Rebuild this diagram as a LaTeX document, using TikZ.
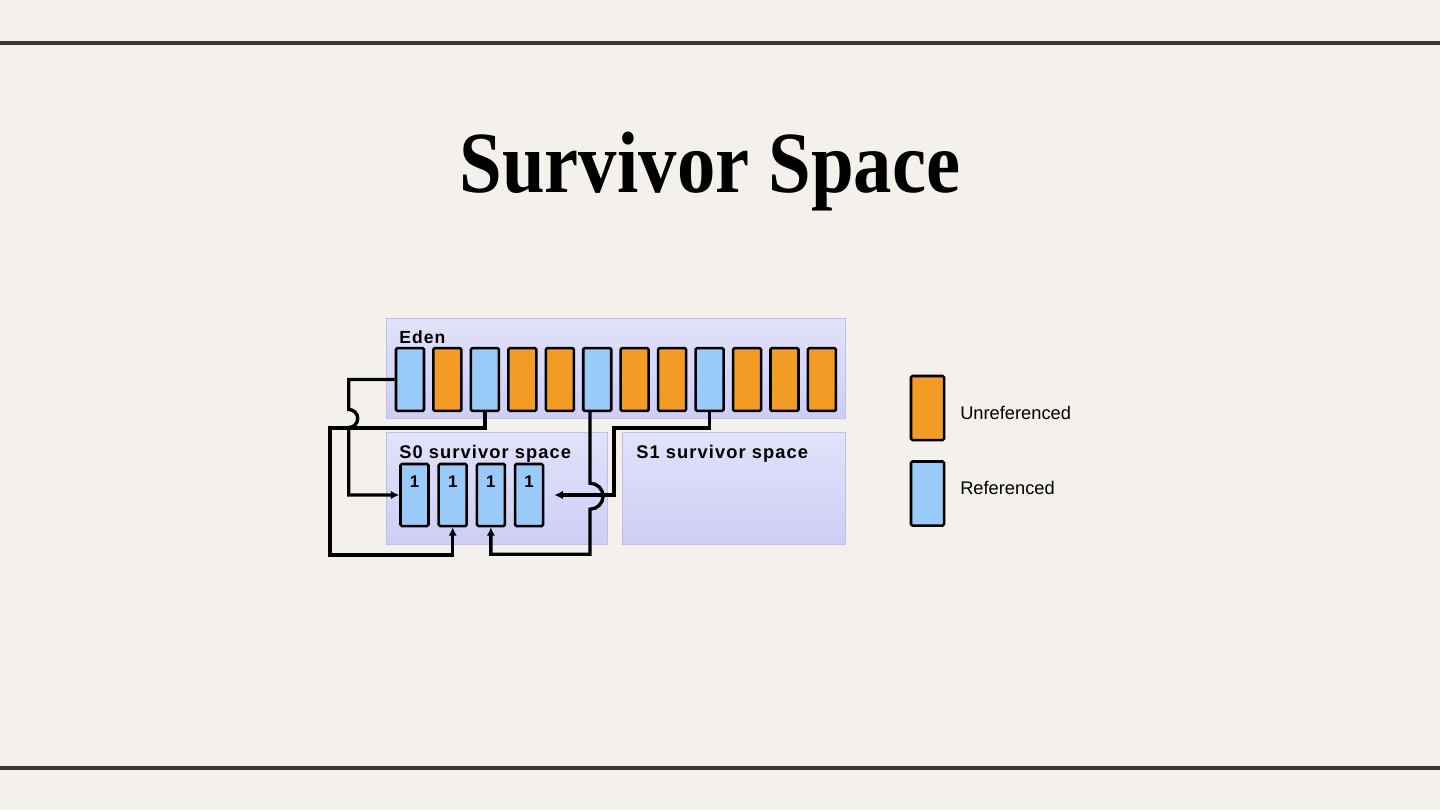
\documentclass[tikz,border=0pt]{standalone}
\usepackage{fontspec}
\setmainfont{Liberation Serif}
\setsansfont{Liberation Sans}
\newfontfamily\boxfont[LetterSpace=6.0]{Liberation Sans}
\usetikzlibrary{arrows.meta, positioning, calc}
\definecolor{paper}{RGB}{244,241,236}
\definecolor{rulecol}{RGB}{62,56,51}
\definecolor{unref}{RGB}{243,156,37}
\definecolor{refd}{RGB}{154,203,248}
\definecolor{spacetop}{RGB}{226,226,250}
\definecolor{spacebot}{RGB}{206,206,246}
\definecolor{spaceedge}{RGB}{190,190,232}

\tikzset{
  cell/.style={draw=black, line width=1.8pt, rounded corners=1pt, inner sep=0pt,
    minimum width=0.7cm, minimum height=1.57cm},
  wire/.style={line width=2.4pt, -{Latex[length=6pt,width=6pt]}},
  spacebox/.style={top color=spacetop, bottom color=spacebot, draw=spaceedge, line width=0.6pt},
  boxlabel/.style={anchor=base west, inner sep=0pt, font=\boxfont\bfseries\fontsize{13}{15}\selectfont}
}

\begin{document}
\begin{tikzpicture}[x=0.025cm, y=-0.025cm]
  % 背景
  \fill[paper] (0,0) rectangle (1440,810);
  \useasboundingbox (0,0) rectangle (1440,810);
  \fill[rulecol] (0,41) rectangle (1440,45);
  \fill[rulecol] (0,766) rectangle (1440,770);

  % 标题
  \node[anchor=base, inner sep=0pt] (title) at (710,192)
    {\scalebox{0.88}[1]{\fontsize{62}{70}\selectfont\bfseries Survivor Space}};

  % 区域
  \shade[spacebox] (386,318) rectangle (845,418);
  \shade[spacebox] (386,432) rectangle (607,544);
  \shade[spacebox] (622,432) rectangle (845,544);
  \node[boxlabel, font=\boxfont\bfseries\fontsize{12.5}{14}\selectfont] at (399,343) {Eden};
  \node[boxlabel] at (399,458) {S0 survivor space};
  \node[boxlabel] at (636,458) {S1 survivor space};

  % Eden 对象
  \foreach \i/\c in {1/refd, 2/unref, 3/refd, 4/unref, 5/unref, 6/refd,
                     7/unref, 8/unref, 9/refd, 10/unref, 11/unref, 12/unref} {
    \node[cell, fill=\c] (eden\i) at ({410+37.45*(\i-1)},379.5) {};
  }

  % S0 对象
  \foreach \i/\n in {1/a, 2/b, 3/c, 4/d} {
    \node[cell, fill=refd, minimum height=1.55cm,
      label={[anchor=north, inner sep=0pt, yshift=-9pt, font=\sffamily\bfseries\fontsize{12}{14}\selectfont]north:1}]
      (s0\n) at ({414.5+38.2*(\i-1)},495) {};
  }

  % 图例
  \node[cell, fill=unref, minimum width=0.825cm, minimum height=1.6cm] (keyunref) at (927.5,408) {};
  \node[cell, fill=refd, minimum width=0.825cm, minimum height=1.6cm] (keyref) at (927.5,493.5) {};
  \node[anchor=base west, inner sep=0pt, font=\sffamily\fontsize{13}{15}\selectfont] (keyunreftext) at (960,419) {Unreferenced};
  \node[anchor=base west, inner sep=0pt, font=\sffamily\fontsize{13}{15}\selectfont] (keyreftext) at (960,494) {Referenced};

  % 复制路径
  \draw[wire] (eden1.west) -- ++(-46,0) -- ++(0,30)
    arc[start angle=90, end angle=-90, radius=0.225cm] |- (s0a.west);
  \draw[wire] (eden3.south) -- ++(0,16) -| (330,555) -| (s0b.south);
  \draw[wire] ([xshift=-0.18cm]eden6.south) -- ++(0,71)
    arc[start angle=90, end angle=-90, radius=0.325cm] -- ++(0,45) -| (s0c.south);
  \draw[wire, shorten >=0.25cm] (eden9.south) -- ++(0,16) -| (614,495) -- (s0d.east);
\end{tikzpicture}
\end{document}
